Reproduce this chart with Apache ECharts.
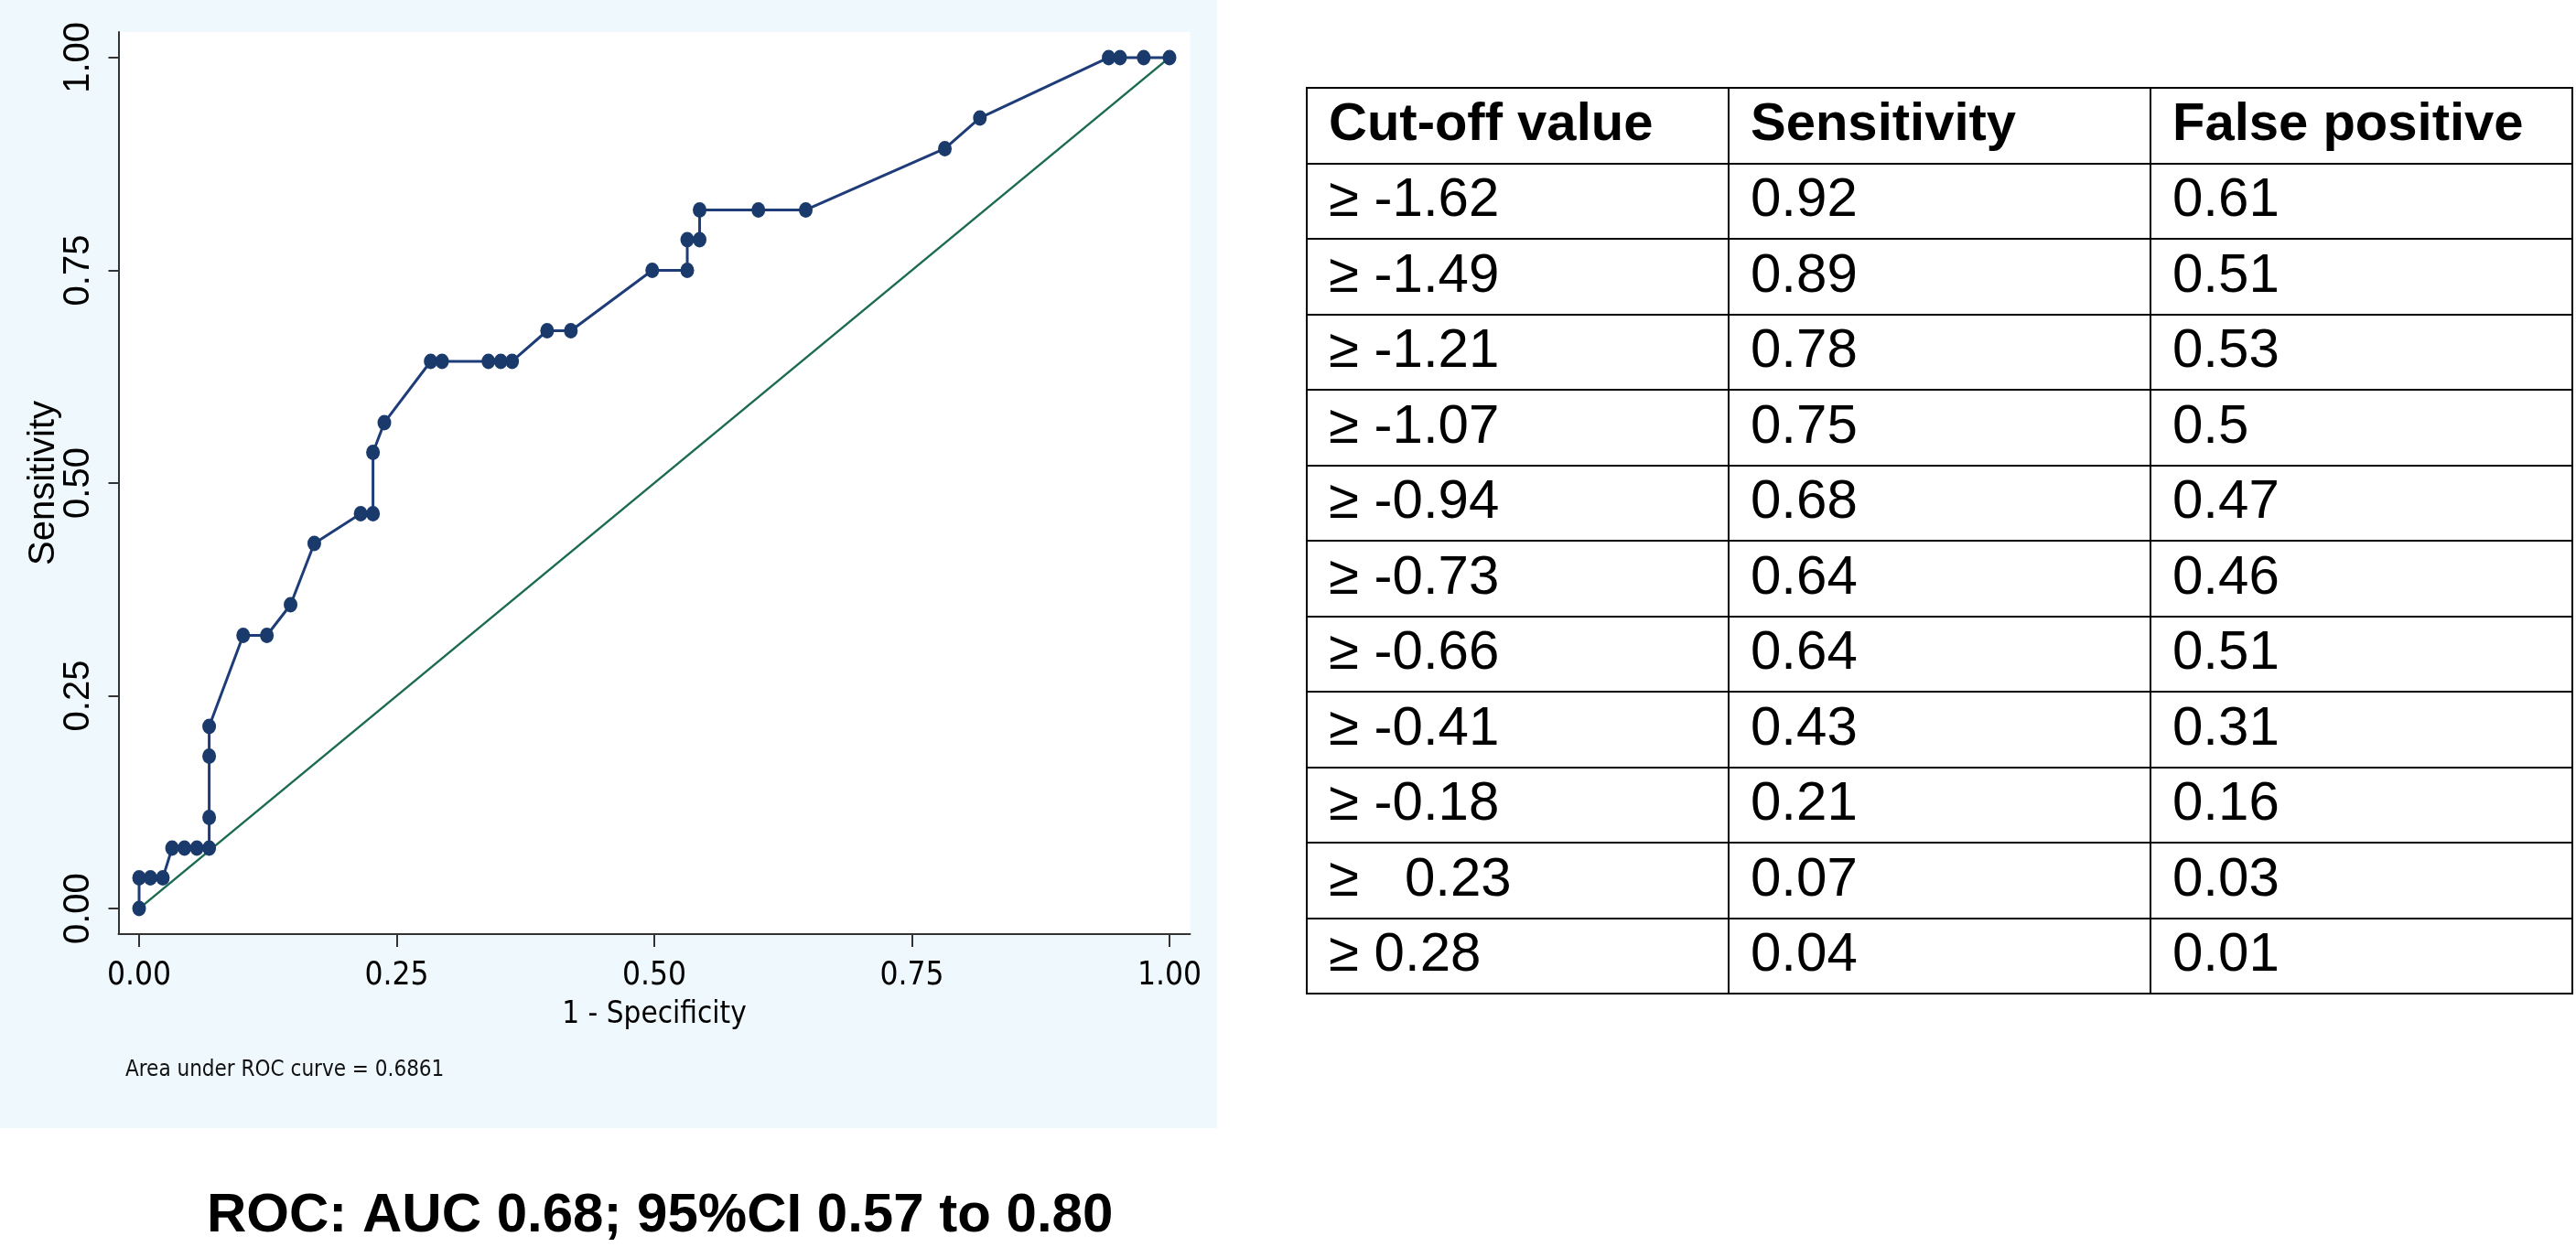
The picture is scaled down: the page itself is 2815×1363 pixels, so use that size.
<!DOCTYPE html>
<html>
<head>
<meta charset="utf-8">
<script src="https://cdn.jsdelivr.net/npm/echarts@6/dist/echarts.min.js"></script>
<style>
html,body{margin:0;padding:0;background:#fff;}
#main{width:2815px;height:1363px;}
</style>
</head>
<body>
<div id="main"></div>
<script>
// ROC curve points (1 - specificity, sensitivity)
var fpr = [0, 0, 0.011, 0.023, 0.032, 0.044, 0.056, 0.068, 0.068, 0.068, 0.068, 0.101, 0.124, 0.147, 0.170, 0.215, 0.227, 0.227, 0.238,
  0.283, 0.294, 0.339, 0.351, 0.362, 0.396, 0.419, 0.498, 0.532, 0.532, 0.544, 0.544, 0.601, 0.647, 0.782, 0.816, 0.941, 0.952, 0.975, 1.0];
var tpr = [0, 0.036, 0.036, 0.036, 0.071, 0.071, 0.071, 0.071, 0.107, 0.179, 0.214, 0.321, 0.321, 0.357, 0.429, 0.464, 0.464, 0.536, 0.571,
  0.643, 0.643, 0.643, 0.643, 0.643, 0.679, 0.679, 0.75, 0.75, 0.786, 0.786, 0.821, 0.821, 0.821, 0.893, 0.929, 1, 1, 1, 1];
var refX = [0, 1];
var refY = [0, 1];
var ticks = [0, 0.25, 0.5, 0.75, 1];

// table
var headers = ['Cut-off value', 'Sensitivity', 'False positive'];
var cutoffs = ['≥ -1.62', '≥ -1.49', '≥ -1.21', '≥ -1.07', '≥ -0.94', '≥ -0.73', '≥ -0.66', '≥ -0.41', '≥ -0.18', '≥   0.23', '≥ 0.28'];
var sensitivity = [0.92, 0.89, 0.78, 0.75, 0.68, 0.64, 0.64, 0.43, 0.21, 0.07, 0.04];
var falsePositive = [0.61, 0.51, 0.53, 0.5, 0.47, 0.46, 0.51, 0.31, 0.16, 0.03, 0.01];

var narrow = "'Liberation Sans Narrow', 'DejaVu Sans Condensed', 'Liberation Sans', sans-serif";
var sans = "'Liberation Sans', Arial, sans-serif";

var rocData = fpr.map(function (x, i) { return [x, tpr[i]]; });
var refData = refX.map(function (x, i) { return [x, refY[i]]; });

var rowNames = ['h'];
cutoffs.forEach(function (c, i) { rowNames.push('r' + i); });

var cells = [];
headers.forEach(function (h, c) { cells.push({ value: [c, 0], text: h, bold: true }); });
cutoffs.forEach(function (c, i) {
  cells.push({ value: [0, i + 1], text: c });
  cells.push({ value: [1, i + 1], text: String(sensitivity[i]) });
  cells.push({ value: [2, i + 1], text: String(falsePositive[i]) });
});

var myChart = echarts.init(document.getElementById('main'));
var option = {
  backgroundColor: '#fff',
  animation: false,
  graphic: [
    { type: 'rect', z: -10, shape: { x: 0, y: 0, width: 1330, height: 1233 }, style: { fill: '#eff9fd' } },
    { type: 'text', left: 137, top: 1158, style: { text: 'Area under ROC curve = 0.6861', font: '24px ' + narrow, fill: '#111' } },
    { type: 'text', left: 226, top: 1299, style: { text: 'ROC: AUC 0.68; 95%CI 0.57 to 0.80', font: 'bold 60px ' + sans, fill: '#000' } }
  ],
  grid: [
    { left: 129.5, top: 35, width: 1171, height: 986, show: true, backgroundColor: '#fff', borderWidth: 0 },
    { left: 1428, top: 96, width: 1383, height: 990, show: true, backgroundColor: 'transparent', borderColor: '#000', borderWidth: 2 }
  ],
  xAxis: [
    {
      type: 'value', gridIndex: 0, min: -0.02, max: 1.02,
      name: '1 - Specificity', nameLocation: 'middle', nameGap: 72, nameMoveOverlap: false,
      nameTextStyle: { fontFamily: narrow, fontSize: 33, color: '#000' },
      axisLine: { onZero: false, lineStyle: { color: '#333', width: 2 } },
      axisTick: { customValues: ticks, length: 14, lineStyle: { color: '#333', width: 2 } },
      axisLabel: { customValues: ticks, margin: 28, fontFamily: narrow, fontSize: 35, color: '#000',
        formatter: function (v) { return v.toFixed(2); } },
      splitLine: { show: false }
    },
    {
      type: 'category', gridIndex: 1, data: headers,
      axisLine: { show: false }, axisTick: { show: false }, axisLabel: { show: false },
      splitLine: { show: true, lineStyle: { color: '#000', width: 2 } }
    }
  ],
  yAxis: [
    {
      type: 'value', gridIndex: 0, min: -0.03, max: 1.03,
      name: 'Sensitivity', nameLocation: 'middle', nameGap: 62, nameMoveOverlap: false,
      nameTextStyle: { fontFamily: sans, fontSize: 40, color: '#000' },
      axisLine: { onZero: false, lineStyle: { color: '#333', width: 2 } },
      axisTick: { customValues: ticks, length: 11, lineStyle: { color: '#333', width: 2 } },
      axisLabel: { customValues: ticks, rotate: 90, margin: 24, fontFamily: sans, fontSize: 40, color: '#000',
        formatter: function (v) { return v.toFixed(2); } },
      splitLine: { show: false }
    },
    {
      type: 'category', gridIndex: 1, data: rowNames, inverse: true,
      axisLine: { show: false }, axisTick: { show: false }, axisLabel: { show: false },
      splitLine: { show: true, lineStyle: { color: '#000', width: 2 } }
    }
  ],
  series: [
    {
      name: 'ROC', type: 'line', xAxisIndex: 0, yAxisIndex: 0,
      data: rocData, symbol: 'circle', symbolSize: [15, 17], showSymbol: true, showAllSymbol: true,
      itemStyle: { color: '#1a3a6b' },
      lineStyle: { color: '#1d3c78', width: 3 }
    },
    {
      name: 'Reference', type: 'line', xAxisIndex: 0, yAxisIndex: 0,
      data: refData, symbol: 'none', z: 3,
      lineStyle: { color: '#1b6b52', width: 2.5 }
    },
    {
      name: 'table', type: 'custom', xAxisIndex: 1, yAxisIndex: 1,
      data: cells,
      renderItem: function (params, api) {
        var cell = cells[params.dataIndex];
        var pt = api.coord([api.value(0), api.value(1)]);
        var sz = api.size([1, 1]);
        return {
          type: 'text',
          x: pt[0] - sz[0] / 2 + 24,
          y: pt[1],
          style: {
            text: cell.text,
            font: cell.bold ? 'bold 58px ' + sans : '60px ' + sans,
            fill: '#000',
            align: 'left',
            verticalAlign: 'middle'
          }
        };
      }
    }
  ]
};
myChart.setOption(option);
</script>
</body>
</html>
